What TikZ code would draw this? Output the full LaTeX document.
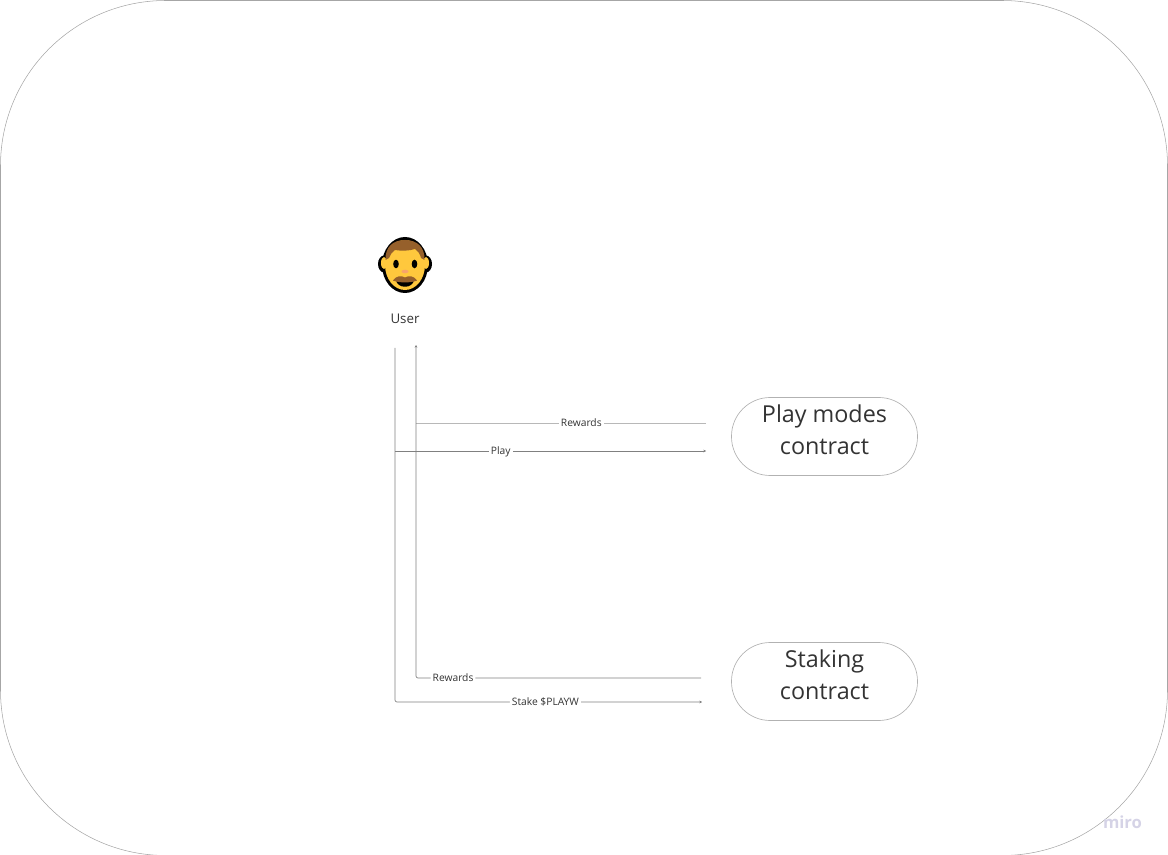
\documentclass[tikz,border=0pt]{standalone}
\usepackage{fontspec}
\setmainfont{Open Sans}
\definecolor{inkgray}{HTML}{333333}
\definecolor{skin}{HTML}{FFC83D}
\definecolor{hair}{HTML}{96602B}
\definecolor{nose}{HTML}{F7A46B}
\definecolor{mark}{HTML}{D5D3E6}
\tikzset{
    wire/.style={draw=black!50, line width=.5pt},
    pale/.style={draw=black!28, line width=.5pt},
    tip/.style={-{Stealth[length=2pt,width=2pt]}},
    wirelabel/.style={fill=white, text=inkgray, font=\fontsize{7.7}{9}\selectfont, inner sep=1.5pt},
    contract/.style={draw=black!30, line width=.5pt, rounded corners=29pt, minimum width=139.5pt,
        minimum height=58.5pt, inner sep=0pt},
    contracttext/.style={align=center, text=inkgray, inner sep=0pt, font=\fontsize{17.5}{24}\selectfont},
}
\usetikzlibrary{arrows.meta}
\begin{document}
\begin{tikzpicture}[x=.75pt,y=-.75pt]
    \useasboundingbox (0,0) rectangle (1168,855);
    \draw[draw=black!35, line width=.4pt, rounded corners=124pt] (.5,.5) rectangle (1167.5,855.5);

    % the face
    \fill[black] (384,264) ellipse (6 and 8.5) (426,264) ellipse (6 and 8.5);
    \fill[black] (405,265) ellipse (23 and 28);
    \fill[skin] (384,263) ellipse (3 and 6) (426,263) ellipse (3 and 6);
    \fill[skin] (405,265) ellipse (20 and 25);
    \fill[hair] (385.5,260) .. controls (385,247) and (393,240) .. (405,240)
        .. controls (417,240) and (425,247) .. (424.5,260)
        -- (421,258) .. controls (420,254) and (418,251) .. (415,249)
        .. controls (409,251) and (401,251) .. (395,250)
        .. controls (392,252) and (390,255) .. (389,258) -- cycle;
    \fill[black] (396,264) ellipse (2.8 and 4.3) (414.5,264) ellipse (2.8 and 4.3);
    \fill[nose] (405,271.5) ellipse (3.5 and 1.8);
    \fill[black] (396,280) -- (414,280) .. controls (413,289) and (397,289) .. cycle;
    \fill[hair] (393,280.5) .. controls (396,276) and (401,275) .. (405,277.5)
        .. controls (409,275) and (414,276) .. (417,280.5)
        .. controls (412,283) and (398,283) .. cycle;

    \node[text=inkgray, font=\fontsize{10}{12}\selectfont] (user) at (405,318.5) {User};
    \node[contract] (play) at (824.5,436.5) {};
    \node[contract] (staking) at (824.5,681.5) {};
    \node[contracttext] (playtext) at (824.5,429.5) {Play modes\\contract};
    \node[contracttext] (stakingtext) at (824.5,674.5) {Staking\\contract};

    \coordinate (userout) at (395,348);
    \coordinate (userin) at (416,345);
    \coordinate (playbranch) at (395,451);
    \coordinate (playin) at (706,451);
    \coordinate (playout) at (706,423);
    \coordinate (playturn) at (416,423);
    \coordinate (stakecorner) at (395,702);
    \coordinate (stakein) at (702,702);
    \coordinate (stakeout) at (701,678);
    \coordinate (staketurn) at (416,678);

    \draw[pale] (playout) -- node[wirelabel,pos=.43] {Rewards} (playturn);
    \draw[wire,tip] (playbranch) -- node[wirelabel,pos=.34,yshift=-.4pt] {Play} (playin);
    \draw[wire,tip,rounded corners=1.5pt] (userout) -- (stakecorner)
        -- node[wirelabel,pos=.49] {Stake \$PLAYW} (stakein);
    \draw[wire,tip,rounded corners=1.5pt] (stakeout)
        -- node[wirelabel,pos=.87] {Rewards} (staketurn) -- (userin);

    \node[text=mark, font=\fontsize{12.5}{14}\selectfont\bfseries] (miro) at (1122.5,822.5) {miro};
\end{tikzpicture}
\end{document}
